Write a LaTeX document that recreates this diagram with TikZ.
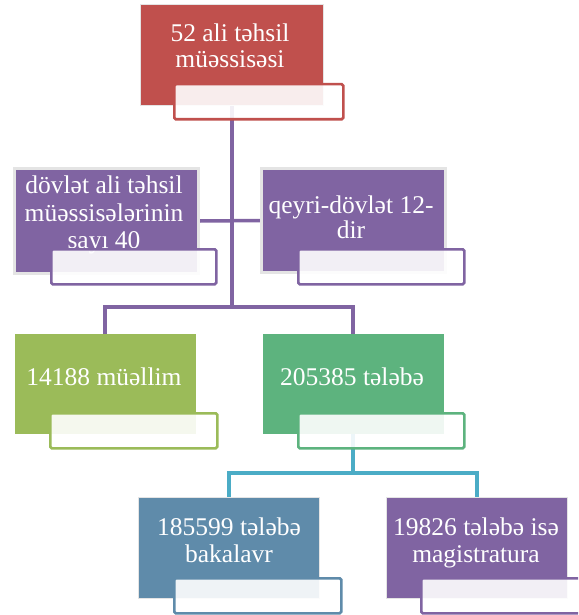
\documentclass[tikz,border=0pt]{standalone}
\usepackage{fontspec}
\setmainfont{Liberation Serif}
\newfontfamily\lbfont{Liberation Serif}
\definecolor{cRed}{HTML}{C0504D}
\definecolor{cPurple}{HTML}{8064A2}
\definecolor{cOlive}{HTML}{9BBB59}
\definecolor{cGreen}{HTML}{5DB37E}
\definecolor{cBlue}{HTML}{5F8BAA}
\definecolor{cTeal}{HTML}{4BACC6}
\definecolor{cEdge}{HTML}{E4E4E4}
\begin{document}
\begin{tikzpicture}[x=1pt,y=-1pt,
  mainbox/.style={fill=#1, draw=cEdge, line width=1pt, anchor=north west, inner sep=0pt},
  shadebox/.style={fill=#1, draw=cEdge, line width=3pt, anchor=north west, inner sep=0pt},
  subbox/.style={draw=#1, line width=2.5pt, fill=white, fill opacity=0.9, rounded corners=1.5pt,
                 anchor=north west, inner sep=0pt, minimum height=35},
  lbl/.style={text=white, font=\lbfont\fontsize{25.5}{30}\selectfont, anchor=base, inner sep=0pt},
  conn/.style={line width=3.5pt, draw=#1, line cap=rect}
]
\useasboundingbox (0,0) rectangle (578,615);
\clip (0,0) rectangle (578,615);
\fill[white] (0,0) rectangle (578,615);

\coordinate (bar1) at (230,307);

% main boxes (named, used as connector ends)
\node[mainbox=cRed, minimum width=183, minimum height=101] (top) at (140,4) {};
\node[shadebox=cPurple, minimum width=184, minimum height=105] (dl) at (13,167) {};
\node[shadebox=cPurple, minimum width=184, minimum height=104] (dr) at (260,167) {};
\node[mainbox=cOlive, minimum width=181, minimum height=100, draw=none] (ol) at (14,333) {};
\node[mainbox=cGreen, minimum width=181, minimum height=100, draw=none] (gr) at (262,333) {};
\node[mainbox=cBlue, minimum width=181, minimum height=101] (bl) at (138,497) {};
\node[mainbox=cPurple, minimum width=181, minimum height=101] (pu) at (386,497) {};

% connectors
\draw[conn=cPurple] (top.south) -- (top.south |- bar1);
\draw[conn=cPurple] (dl.east) -- (dr.west);
\draw[conn=cPurple] (ol.north) -- ++(0,-26) -| (gr.north);
\draw[conn=cTeal] (gr.south) -- ++(0,38);
\draw[conn=cTeal] (bl.north) -- ++(0,-24) -| (pu.north);

% redraw boxes over connector ends
\node[mainbox=cRed, minimum width=183, minimum height=101] (topR) at (140,4) {};
\node[shadebox=cPurple, minimum width=184, minimum height=105] (dlR) at (13,167) {};
\node[shadebox=cPurple, minimum width=184, minimum height=104] (drR) at (260,167) {};
\node[mainbox=cOlive, minimum width=181, minimum height=100, draw=none] (olR) at (14,333) {};
\node[mainbox=cGreen, minimum width=181, minimum height=100, draw=none] (grR) at (262,333) {};
\node[mainbox=cBlue, minimum width=181, minimum height=101] (blR) at (138,497) {};
\node[mainbox=cPurple, minimum width=181, minimum height=101] (puR) at (386,497) {};

% labels
\node[lbl] (t1a) at (230,42) {52 ali təhsil};
\node[lbl] (t1b) at (230,68) {müəssisəsi};
\node[lbl] (t2a) at (104,193) {dövlət ali təhsil};
\node[lbl] (t2b) at (104,221) {müəssisələrinin};
\node[lbl] (t2c) at (104,248) {sayı 40};
\node[lbl] (t3a) at (351,213) {qeyri-dövlət 12-};
\node[lbl] (t3b) at (351,238) {dir};
\node[lbl] (t4) at (104,385) {14188 müəllim};
\node[lbl] (t5) at (352,385) {205385 tələbə};
\node[lbl] (t6a) at (229,535) {185599 tələbə};
\node[lbl] (t6b) at (229,562) {bakalavr};
\node[lbl] (t7a) at (476,535) {19826 tələbə isə};
\node[lbl] (t7b) at (476,562) {magistratura};

% sub boxes
\node[subbox=cRed, minimum width=169] (topS) at (173,83) {};
\node[subbox=cPurple, minimum width=165] (dlS) at (50,248) {};
\node[subbox=cPurple, minimum width=166] (drS) at (297,248) {};
\node[subbox=cOlive, minimum width=167] (olS) at (49,412) {};
\node[subbox=cGreen, minimum width=166] (grS) at (297,412) {};
\node[subbox=cBlue, minimum width=167] (blS) at (173,577) {};
\node[subbox=cPurple, minimum width=167] (puS) at (420,577) {};
\end{tikzpicture}
\end{document}
